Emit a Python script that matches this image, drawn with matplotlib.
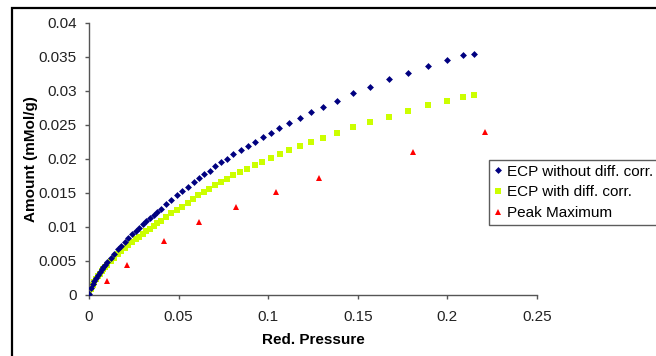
import matplotlib
matplotlib.use("Agg")
import matplotlib.pyplot as plt
from matplotlib.patches import Rectangle

plt.rcParams['font.family'] = ['Liberation Sans', 'DejaVu Sans']

# ECP without diff. corr. (blue diamonds)
blue_x = [0.0002, 0.001, 0.002, 0.003, 0.004, 0.005, 0.006, 0.007, 0.008, 0.009,
          0.010, 0.012, 0.014, 0.016, 0.018, 0.020, 0.022, 0.024, 0.026, 0.028,
          0.030, 0.032, 0.034, 0.036, 0.038, 0.040, 0.043, 0.046, 0.049, 0.052,
          0.055, 0.0588, 0.0614, 0.0642, 0.0674, 0.0703, 0.0737, 0.0770, 0.0805,
          0.0847, 0.0886, 0.0926, 0.0969, 0.1014, 0.1062, 0.1118, 0.1177, 0.1239,
          0.1307, 0.1382, 0.1473, 0.1568, 0.1672, 0.1780, 0.1892, 0.1998, 0.2089,
          0.2150]
blue_y = [0.0002, 0.00096, 0.00156, 0.00208, 0.00254, 0.00297, 0.00337, 0.00376, 0.00412, 0.00448,
          0.00482, 0.00547, 0.00610, 0.00670, 0.00727, 0.00783, 0.00837, 0.00890, 0.00941, 0.00991,
          0.01040, 0.01088, 0.01135, 0.01181, 0.01227, 0.01272, 0.01338, 0.01403, 0.01466, 0.01529,
          0.01590, 0.01666, 0.01725, 0.01779, 0.01828, 0.01893, 0.01951, 0.02004, 0.02069,
          0.02128, 0.02196, 0.02254, 0.02324, 0.02387, 0.02460, 0.02525, 0.02603, 0.02691,
          0.02769, 0.02857, 0.02966, 0.03063, 0.03172, 0.03269, 0.03372, 0.03456, 0.03525,
          0.03549]

# ECP with diff. corr. (green squares)
green_x = [0.0002, 0.001, 0.002, 0.003, 0.004, 0.005, 0.006, 0.007, 0.008, 0.009,
           0.010, 0.012, 0.014, 0.016, 0.018, 0.020, 0.022, 0.024, 0.026, 0.028,
           0.030, 0.032, 0.034, 0.036, 0.038, 0.040, 0.043, 0.046, 0.049, 0.052,
           0.055, 0.0579, 0.0610, 0.0642, 0.0671, 0.0703, 0.0735, 0.0770, 0.0805,
           0.0844, 0.0883, 0.0926, 0.0967, 0.1014, 0.1066, 0.1118, 0.1177, 0.1237,
           0.1304, 0.1382, 0.1472, 0.1568, 0.1674, 0.1780, 0.1892, 0.1996, 0.2089,
           0.2148]
green_y = [0.0002, 0.00092, 0.00148, 0.00198, 0.00239, 0.00279, 0.00313, 0.00350, 0.00379, 0.00412,
           0.00443, 0.00498, 0.00549, 0.00603, 0.00647, 0.00689, 0.00737, 0.00774, 0.00819, 0.00852,
           0.00894, 0.00936, 0.00976, 0.01016, 0.01055, 0.01094, 0.01151, 0.01200, 0.01253, 0.01300,
           0.01352, 0.01412, 0.01466, 0.01519, 0.01563, 0.01613, 0.01657, 0.01710, 0.01760,
           0.01804, 0.01853, 0.01912, 0.01960, 0.02019, 0.02069, 0.02128, 0.02191, 0.02250,
           0.02313, 0.02387, 0.02466, 0.02540, 0.02622, 0.02710, 0.02790, 0.02857, 0.02912,
           0.02941]

# Peak Maximum (red triangles)
peak_x = [0.0102, 0.0212, 0.0419, 0.0616, 0.0820, 0.1044, 0.1283, 0.1810, 0.2210]
peak_y = [0.00199, 0.00441, 0.00794, 0.01074, 0.01301, 0.01515, 0.01716, 0.02107, 0.02390]

x_ticks = [0, 0.05, 0.1, 0.15, 0.2, 0.25]
x_tick_labels = ['0', '0.05', '0.1', '0.15', '0.2', '0.25']
y_ticks = [0, 0.005, 0.01, 0.015, 0.02, 0.025, 0.03, 0.035, 0.04]
y_tick_labels = ['0', '0.005', '0.01', '0.015', '0.02', '0.025', '0.03', '0.035', '0.04']

W, H = 656, 356
fig = plt.figure(figsize=(W / 100, H / 100), dpi=100)
ax = fig.add_axes([89 / W, 1 - 295 / H, (537 - 89) / W, (295 - 23) / H])

ax.plot(blue_x, blue_y, linestyle='none', marker='D', markersize=3.5,
        color='#000080', markeredgewidth=0, label='ECP without diff. corr.', zorder=3)
ax.plot(green_x, green_y, linestyle='none', marker='s', markersize=4.3,
        color='#ccff00', markeredgewidth=0, label='ECP with diff. corr.', zorder=2)
ax.plot(peak_x, peak_y, linestyle='none', marker='^', markersize=4.5,
        color='#ff0000', markeredgewidth=0, label='Peak Maximum', zorder=4)

ax.set_xlim(0, 0.25)
ax.set_ylim(0, 0.04)
ax.set_xticks(x_ticks)
ax.set_xticklabels(x_tick_labels)
ax.set_yticks(y_ticks)
ax.set_yticklabels(y_tick_labels)

for s in ['top', 'right']:
    ax.spines[s].set_visible(False)
for s in ['left', 'bottom']:
    ax.spines[s].set_color('#555555')
    ax.spines[s].set_linewidth(1.0)

ax.tick_params(axis='both', direction='out', length=3, width=1, color='#555555',
               labelsize=11, labelcolor='#222222')
ax.tick_params(axis='y', pad=6)
ax.tick_params(axis='x', pad=8)

ax.set_xlabel('Red. Pressure', fontsize=11, fontweight='bold', labelpad=6)
ax.set_ylabel('Amount (mMol/g)', fontsize=11, fontweight='bold', labelpad=0)

leg = ax.legend(loc='upper left', bbox_to_anchor=(489 / W, 1 - 160 / H),
                bbox_transform=fig.transFigure, fontsize=11, frameon=True,
                fancybox=False, shadow=False, borderpad=0.3, labelspacing=0.45,
                handlelength=0.6, handletextpad=0.3, borderaxespad=0,
                markerscale=1.0)
leg.get_frame().set_edgecolor('#333333')
leg.get_frame().set_linewidth(1.0)

# outer chart frame (cut off at right and bottom)
frame = Rectangle((12 / W, -0.1), 1.2, 1.1 - 8 / H, transform=fig.transFigure,
                  fill=False, edgecolor='black', linewidth=1.6, clip_on=False)
fig.patches.append(frame)

fig.savefig('out.png', dpi=100)
